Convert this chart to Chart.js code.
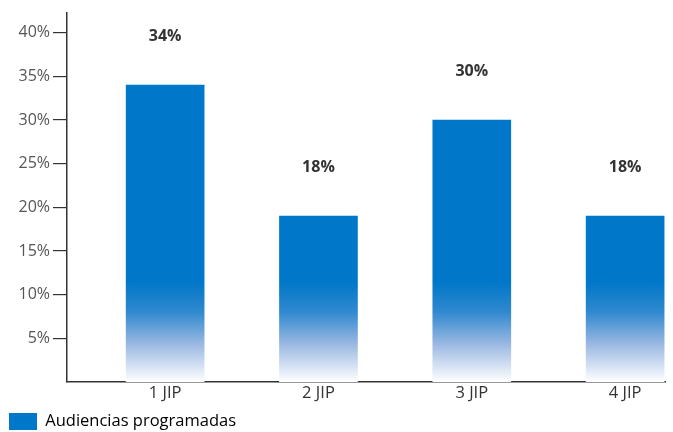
<!DOCTYPE html>
<html><head><meta charset="utf-8">
<script src="https://cdn.jsdelivr.net/npm/chart.js@4/dist/chart.umd.min.js"></script>
<style>html,body{margin:0;padding:0;background:#fff}#wrap{width:673px;height:432px}</style>
</head><body><div id="wrap"><canvas id="c"></canvas></div>
<script>
const categories = ["1 JIP", "2 JIP", "3 JIP", "4 JIP"];
const values = [34, 19, 30, 19];
const valueLabels = ["34%", "18%", "30%", "18%"];
const yTicks = [5, 10, 15, 20, 25, 30, 35, 40];
const seriesName = "Audiencias programadas";
const FONT = "'Open Sans', sans-serif";

function barGradient(ctx) {
  const chart = ctx.chart;
  const area = chart.chartArea;
  if (!area) return '#0077c8';
  const g = chart.ctx.createLinearGradient(0, area.bottom, 0, area.bottom - 100);
  g.addColorStop(0, '#ffffff');
  g.addColorStop(0.38, '#9ab8e2');
  g.addColorStop(0.7, '#3089cf');
  g.addColorStop(1, '#0077c8');
  return g;
}

const valueLabelPlugin = {
  id: 'valueLabels',
  afterDatasetsDraw(chart) {
    const meta = chart.getDatasetMeta(0);
    const c = chart.ctx;
    c.save();
    c.font = "bold 16px " + FONT;
    c.fillStyle = '#333';
    c.textAlign = 'center';
    c.textBaseline = 'middle';
    meta.data.forEach((bar, i) => {
      c.fillText(valueLabels[i], bar.x, bar.y - 49);
    });
    c.restore();
  }
};

new Chart(document.getElementById('c'), {
  type: 'bar',
  data: {
    datasets: [{
      label: seriesName,
      data: categories.map((c, i) => ({ x: i, y: values[i] })),
      backgroundColor: barGradient,
      barThickness: 78,
      borderWidth: 0
    }]
  },
  options: {
    responsive: true,
    maintainAspectRatio: false,
    animation: false,
    layout: { padding: { top: 10, right: 8, left: 0, bottom: -8 } },
    plugins: {
      tooltip: { enabled: false },
      legend: {
        position: 'bottom',
        align: 'start',
        labels: {
          boxWidth: 28,
          boxHeight: 17,
          padding: 9,
          color: '#333',
          font: { family: FONT, size: 16.5 },
          generateLabels: (chart) => [{
            text: seriesName, fillStyle: '#0077c8', strokeStyle: '#0077c8',
            lineWidth: 0, datasetIndex: 0, hidden: false
          }]
        }
      }
    },
    scales: {
      x: {
        type: 'linear',
        offset: false,
        min: -0.64,
        max: 3.26,
        afterBuildTicks: (s) => { s.ticks = categories.map((c, i) => ({ value: i })); },
        afterFit: (s) => { s.height = 22; },
        ticks: {
          callback: (v) => categories[v],
          color: '#333',
          font: { family: FONT, size: 16.5 },
          padding: 1,
          maxRotation: 0
        },
        grid: { display: false, drawTicks: false },
        border: { display: true, color: '#333', width: 1.5 }
      },
      y: {
        min: 0,
        max: 42.3,
        afterFit: (s) => { s.width = 67; },
        afterBuildTicks: (s) => { s.ticks = yTicks.map(v => ({ value: v })); },
        ticks: {
          callback: (v) => v + '%',
          color: '#555',
          font: { family: FONT, size: 16 },
          padding: 3
        },
        grid: { drawOnChartArea: false, drawTicks: true, tickLength: 14, color: '#333', lineWidth: 1.2 },
        border: { display: true, color: '#333', width: 1.5 }
      }
    }
  },
  plugins: [valueLabelPlugin]
});
</script></body></html>
